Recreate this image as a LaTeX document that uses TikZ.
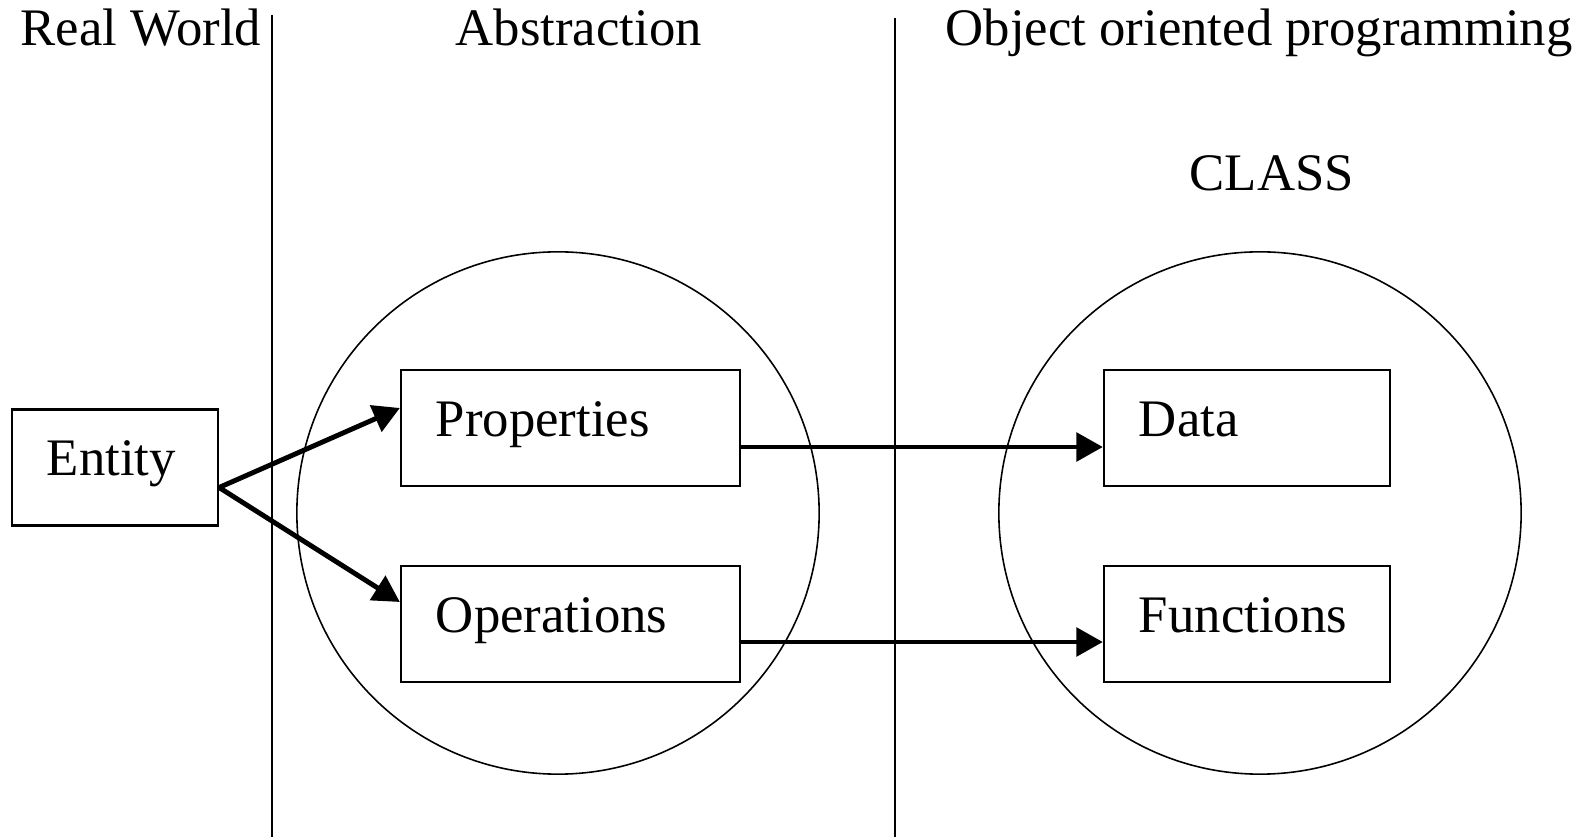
\documentclass[tikz,border=0pt]{standalone}
\usepackage{fontspec}
\setmainfont{Liberation Serif}
\usepackage{tikz}
\usetikzlibrary{arrows.meta,positioning,shapes.geometric}
\tikzset{
  box/.style={draw, line width=0.6pt, rectangle, align=left, inner xsep=0.35cm, inner ysep=0pt,
    minimum height=1.16cm, text height=0.7em, text depth=0.22em, font=\fontsize{15}{18}\selectfont},
  blob/.style={draw, circle, line width=0.45pt, minimum size=5.22cm, inner sep=0pt},
  title/.style={anchor=base west, inner sep=0pt, font=\fontsize{15}{18}\selectfont},
  divider/.style={line width=0.5pt},
  flow/.style={-{Triangle[length=7.5pt, width=8pt]}, line width=1.4pt},
}
\begin{document}
\begin{tikzpicture}[x=0.01cm, y=-0.01cm]
\useasboundingbox (0,0) rectangle (1593,837);
\node[blob] (abs) at (558,513) {};
\node[blob] (cls) at (1260,513) {};
\coordinate (d1top) at (272,15); \coordinate (d1bot) at (272,837);
\coordinate (d2top) at (895,18); \coordinate (d2bot) at (895,837);
\draw[divider] (d1top) -- (d1bot);
\draw[divider] (d2top) -- (d2bot);
\node[title] (trw) at (20,46) {Real World};
\node[title] (tab) at (455,46) {Abstraction};
\node[title] (toop) at (945,46) {Object oriented programming};
\node[title] (tcls) at (1189,191) {CLASS};
\node[box, minimum width=2.06cm, text width=1.36cm] (ent) at (115,467.5) {Entity};
\node[box, minimum width=3.39cm, text width=2.69cm] (prop) at (570.5,428) {Properties};
\node[box, minimum width=3.39cm, text width=2.69cm] (oper) at (570.5,624) {Operations};
\node[box, minimum width=2.86cm, text width=2.16cm] (data) at (1247,428) {Data};
\node[box, minimum width=2.86cm, text width=2.16cm] (func) at (1247,624) {Functions};
\draw[flow] ([yshift=-2mm]ent.east) -- ([yshift=2mm]prop.west);
\draw[flow] ([yshift=-2mm]ent.east) -- ([yshift=2.2mm]oper.west);
\draw[flow] ([yshift=-1.9mm]prop.east) -- ([yshift=-1.9mm]data.west);
\draw[flow] ([yshift=-1.8mm]oper.east) -- ([yshift=-1.8mm]func.west);
\end{tikzpicture}
\end{document}
